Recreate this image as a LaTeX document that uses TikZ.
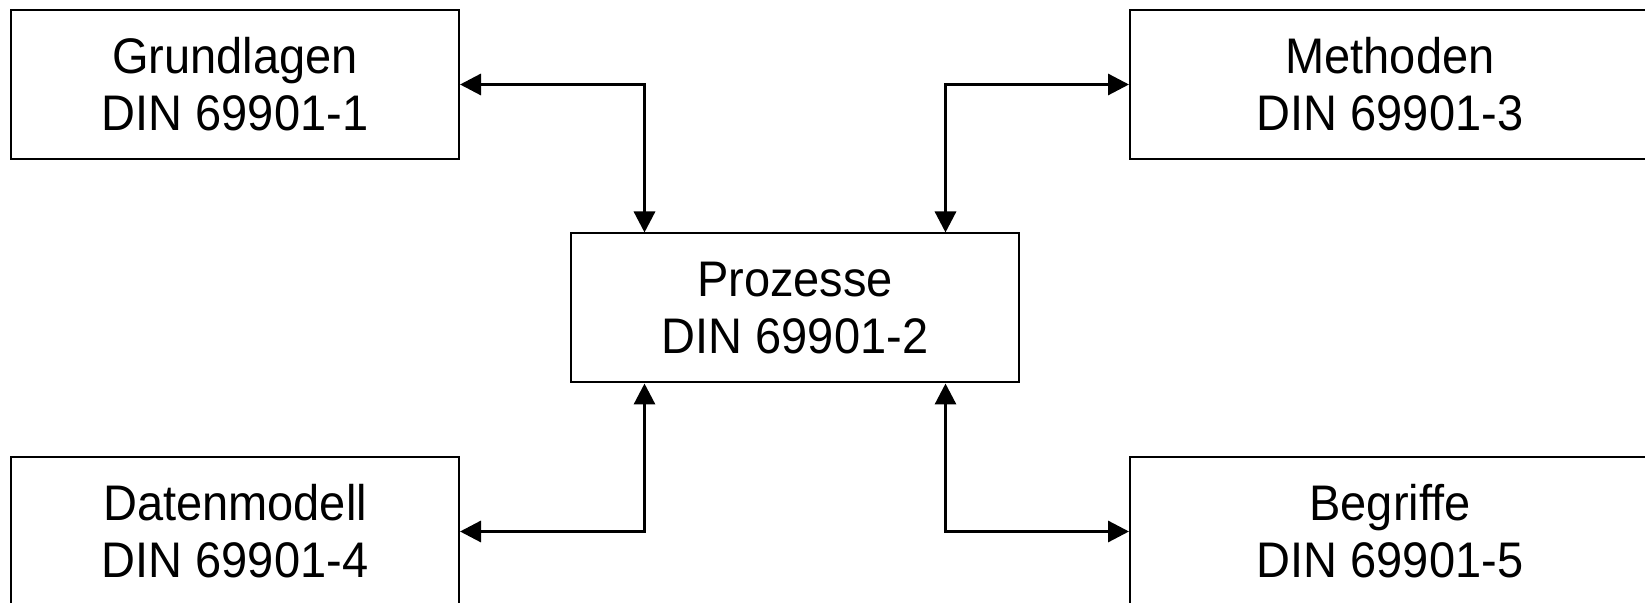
\documentclass[tikz,border=0pt]{standalone}
\usepackage{fontspec}
\setmainfont{Liberation Sans}[FakeStretch=0.94]
\usepackage{xcolor}
\usepackage{tikz}
\usetikzlibrary{arrows.meta, positioning, calc}

\begin{document}
\begin{tikzpicture}[x=0.5pt, y=-0.5pt, >={Triangle[length=10.5pt, width=10.5pt]},
    part/.style={draw, line width=1pt, align=center, minimum width=224pt, minimum height=74.5pt,
        inner sep=0pt, font=\fontsize{25}{28.5}\selectfont},
    widepart/.style={part, minimum width=260pt},
    link/.style={<->, line width=1.6pt}]
    \useasboundingbox (0,0) rectangle (1645,603);
    \clip (0,0) rectangle (1645,603);
    % parts of the standard
    \node[part] (proz) at (795, 308) {Prozesse\\DIN 69901-2};
    \node[part] (grund) at (235, 84.5) {Grundlagen\\DIN 69901-1};
    \node[widepart] (meth) at (1390, 84.5) {Methoden\\DIN 69901-3};
    \node[part] (daten) at (235, 531.5) {Datenmodell\\DIN 69901-4};
    \node[widepart] (begr) at (1390, 531.5) {Begriffe\\DIN 69901-5};
    % links to Prozesse
    \draw[link] (grund.east) -| ([xshift=37.25pt]proz.north west);
    \draw[link] ([xshift=-37.25pt]proz.north east) |- (meth.west);
    \draw[link] (daten.east) -| ([xshift=37.25pt]proz.south west);
    \draw[link] ([xshift=-37.25pt]proz.south east) |- (begr.west);
\end{tikzpicture}
\end{document}
